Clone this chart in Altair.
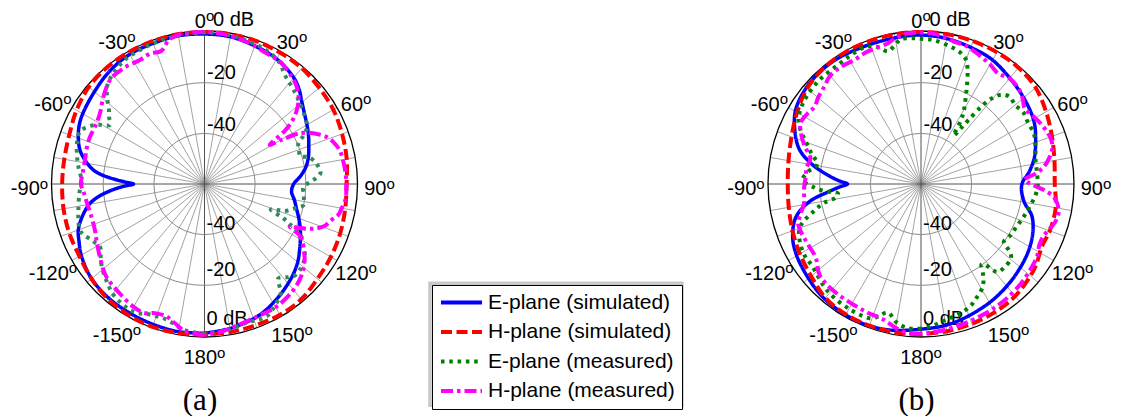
import math
import altair as alt
import pandas as pd

# ------------------------------------------------------------------ data
SERIES = ["E-plane (simulated)", "H-plane (simulated)",
          "E-plane (measured)", "H-plane (measured)"]

# (angle in degrees, clockwise from the top; normalised gain in dB)
A_E_SIM = [(-180, -1.1), (-170, -0.8), (-160, -1.0), (-150, -1.1), (-140, -1.2), (-130, -1.8),
           (-120, -3.8), (-115, -5.4), (-110, -7.0), (-105, -10.0), (-100, -13.8), (-97, -17.5),
           (-95, -21.0), (-93, -25.0), (-91.5, -28.5), (-90, -32.0), (-88.5, -28.5), (-87, -24.5),
           (-85, -19.5), (-83, -16.0), (-80, -13.0), (-75, -9.2), (-70, -7.0), (-65, -5.4),
           (-60, -4.5), (-50, -3.3), (-40, -1.8), (-30, -0.9), (-20, -0.9), (-10, -0.6), (0, -0.8),
           (10, -1.0), (20, -2.0), (30, -3.0), (40, -5.2), (45, -7.2), (50, -9.8), (55, -11.8),
           (60, -13.3), (65, -14.7), (70, -16.2), (75, -17.5), (80, -19.2), (85, -21.8), (90, -24.8),
           (95, -25.5), (100, -24.0), (105, -22.4), (110, -20.4), (115, -18.3), (120, -16.3),
           (125, -14.2), (130, -12.0), (135, -10.2), (140, -8.7), (145, -7.2), (150, -5.8),
           (155, -4.4), (160, -3.4), (170, -2.1), (180, -1.1)]
A_H_SIM = [(-180, -0.6), (-170, -0.3), (-160, 0.0), (-150, -0.2), (-140, -0.7), (-130, -1.8),
           (-120, -3.0), (-110, -3.2), (-100, -3.5), (-90, -3.8), (-80, -3.8), (-70, -3.2),
           (-60, -1.7), (-50, -0.4), (-40, 0.0), (-30, 0.0), (-20, 0.0), (-10, 0.0), (0, 0.0),
           (10, 0.0), (20, 0.0), (30, -0.2), (40, -0.3), (50, -0.9), (60, -1.3), (70, -2.2),
           (80, -3.0), (90, -3.9), (100, -3.6), (110, -3.0), (120, -2.4), (130, -1.8), (140, -0.6),
           (150, -0.4), (160, -0.7), (170, -0.7), (180, -0.6)]
A_E_MEAS = [(-180, -0.8), (-172, -1.8), (-165, -4.3), (-158, -4.3), (-151, -2.3), (-141, -3.3),
            (-135, -5.5), (-129, -7.9), (-125, -10.0), (-121, -11.9), (-117, -10.5), (-111, -7.6),
            (-106, -8.2), (-102, -9.1), (-94, -10.5), (-89, -11.5), (-82, -9.7), (-78, -8.6),
            (-72, -7.1), (-67, -6.7), (-63, -9.5), (-60.5, -12.6), (-58, -16.0), (-55, -14.0),
            (-52, -12.1), (-48, -8.2), (-44, -5.0), (-39, -3.3), (-33, -1.8), (-26, -1.3),
            (-18, -0.8), (-10, -0.5), (0, -0.2), (7, -0.3), (14, -0.8), (23, -1.6), (31, -3.4),
            (37, -6.8), (44, -9.0), (51, -11.0), (57, -12.5), (61, -13.7), (64, -16.5),
            (66.5, -19.6), (70, -20.3), (74, -20.6), (75.5, -17.5), (80, -15.0), (84.5, -14.0),
            (87, -16.0), (89, -18.4), (92, -21.0), (96, -20.5), (99, -20.3), (102, -20.0),
            (105, -23.0), (108.5, -26.5), (111, -32.0), (113.5, -26.0), (115, -23.0), (118, -17.0),
            (122, -14.0), (126, -11.0), (131, -9.5), (135, -9.2), (138, -10.5), (142, -12.7),
            (145, -7.5), (150, -4.5), (154, -2.5), (158, -2.3), (162, -2.8), (171, -1.7),
            (180, -0.8)]
A_H_MEAS = [(-180, -0.4), (-173, -1.2), (-168, -3.8), (-164, -5.6), (-159, -5.4), (-155, -3.8),
            (-150, -4.0), (-142, -5.4), (-133, -6.8), (-125, -9.6), (-118, -11.8), (-112, -13.2),
            (-105, -13.5), (-99, -13.0), (-94, -12.2), (-90, -11.2), (-85, -11.7), (-79, -11.9),
            (-73, -11.4), (-68, -11.1), (-62, -11.2), (-56, -10.2), (-49, -7.2), (-42, -4.5),
            (-35, -4.2), (-27.5, -4.8), (-22.5, -4.2), (-18, -4.8), (-14, -1.5), (-10, -0.2),
            (-5, 0.0), (0, 0.0), (5, -0.2), (11, -0.8), (18, -1.6), (25, -2.9), (32, -3.3),
            (39, -5.4), (43.5, -7.1), (48, -10.0), (51.3, -13.3), (54, -17.0), (56.5, -22.0),
            (59, -30.0), (60.2, -25.0), (62, -17.3), (65, -12.6), (69, -8.3), (72, -6.5), (76, -5.0),
            (82, -4.4), (87, -4.1), (91, -4.0), (96, -4.0), (100, -5.0), (103, -5.8), (106, -8.0),
            (109.5, -10.0), (112.5, -13.8), (115, -19.0), (116.5, -22.5), (118, -18.0),
            (120, -15.5), (122.5, -13.8), (127, -10.5), (133, -7.5), (140, -5.4), (150, -3.8),
            (158, -3.7), (168, -2.5), (174, -1.2), (180, -0.4)]

B_E_SIM = [(-180, -2.7), (-170, -1.3), (-160, -0.4), (-150, -0.4), (-140, -0.8), (-133, -1.6),
           (-121, -3.2), (-113, -5.0), (-105, -8.8), (-99, -15.4), (-95, -23.0), (-92, -28.0),
           (-90, -31.0), (-88, -28.0), (-85, -23.7), (-80, -16.6), (-74, -10.0), (-66, -5.4),
           (-59, -2.4), (-48, -0.7), (-36, -0.4), (-24, -1.2), (-11, -1.4), (0, -1.2), (10, -1.7),
           (21, -2.7), (30, -3.5), (42, -5.8), (52, -7.4), (61, -9.0), (68, -11.2), (77, -14.1),
           (83.5, -17.0), (89, -19.9), (93, -20.3), (100, -18.6), (106, -14.5), (113, -12.0),
           (122, -10.0), (132, -8.5), (141, -7.2), (151, -5.8), (164, -4.1), (172, -3.2),
           (180, -2.7)]
B_H_SIM = [(-180, -0.7), (-170, -0.6), (-160, -0.5), (-150, -0.6), (-140, -1.3), (-130, -3.4),
           (-120, -4.8), (-110, -6.0), (-100, -7.0), (-90, -7.4), (-80, -6.9), (-70, -5.6),
           (-60, -3.5), (-50, -1.3), (-40, -0.3), (-30, 0.0), (-20, 0.0), (-10, 0.0), (0, 0.0),
           (10, 0.0), (20, 0.0), (30, 0.0), (40, -0.1), (50, -0.9), (60, -3.0), (70, -5.0),
           (80, -6.5), (90, -7.2), (100, -6.0), (110, -5.9), (117, -6.3), (125, -4.5), (130, -3.6),
           (140, -2.2), (150, -1.6), (160, -1.3), (170, -1.0), (180, -0.7)]
B_E_MEAS = [(-180, -3.0), (-175, -2.8), (-170, -4.5), (-165.5, -7.6), (-162, -5.0),
            (-159.7, -3.4), (-151, -3.1), (-139, -3.9), (-127, -6.2), (-120, -6.2), (-110, -9.0),
            (-104, -16.7), (-101, -21.0), (-99, -26.0), (-96.5, -27.0), (-94.5, -22.5),
            (-92, -18.0), (-88, -13.3), (-84, -15.0), (-79, -18.4), (-75, -15.5), (-70, -11.7),
            (-66, -8.0), (-62, -5.2), (-57, -3.8), (-52, -3.1), (-44, -2.6), (-35, -2.7),
            (-28, -2.0), (-22, -1.6), (-18, -3.0), (-14, -6.0), (-11, -4.5), (-8, -2.3),
            (-3, -2.4), (0, -2.7), (5, -3.0), (12, -4.5), (17, -6.0), (20, -7.9), (22, -11.0),
            (24.5, -16.0), (27, -21.0), (30, -26.0), (32, -30.0), (34, -37.0), (35.5, -33.0),
            (36.5, -28.7), (38, -21.0), (39.5, -16.3), (42, -12.5), (45.5, -10.9), (50, -11.5),
            (55, -10.7), (60, -11.3), (66, -11.2), (72, -12.5), (78, -13.8), (85, -14.0),
            (91, -13.9), (96, -14.7), (102, -16.3), (108, -17.5), (114, -18.7), (120, -19.3),
            (125, -20.1), (127.5, -15.5), (130, -13.8), (135, -13.5), (139, -14.0),
            (141.5, -19.0), (143, -20.3), (146, -16.0), (149, -12.7), (154, -10.0), (158, -8.0),
            (164, -6.5), (170, -5.4), (175, -4.0), (180, -3.0)]
B_H_MEAS = [(-180, -1.0), (-176, -0.8), (-171, -2.0), (-164, -4.6), (-158, -5.0), (-151, -5.4),
            (-141, -5.5), (-132, -6.2), (-125, -9.3), (-118, -9.4), (-112, -9.0), (-108, -9.0),
            (-104, -11.0), (-99, -13.3), (-94, -13.7), (-90, -14.0), (-86, -14.5), (-82, -14.3),
            (-77, -15.2), (-72, -11.7), (-67, -8.5), (-63, -6.7), (-58, -7.3), (-54, -8.1),
            (-50, -7.0), (-45, -5.9), (-40, -4.2), (-34, -4.0), (-28, -4.4), (-23, -3.7),
            (-18, -3.5), (-13, -2.9), (-10, -1.5), (-5, -0.3), (0, -0.2), (5, -0.5), (10, -1.5),
            (13, -2.3), (18, -2.6), (24, -4.1), (30, -5.5), (35, -6.8), (40, -5.6), (46, -6.2),
            (50, -7.6), (54, -9.4), (58, -8.5), (64, -6.9), (70, -5.8), (74, -6.0), (78, -8.0),
            (82, -11.0), (85, -15.0), (87.5, -19.0), (89, -18.0), (91, -15.0), (93, -11.0),
            (96, -7.0), (101, -4.6), (106, -5.0), (110, -6.5), (113, -7.5), (117, -7.5),
            (122, -6.0), (128, -5.2), (135, -4.3), (143, -3.6), (149, -3.2), (156, -2.8),
            (163, -2.3), (170, -1.7), (176, -1.2), (180, -1.0)]

ANGLE_TICKS = [0, 30, 60, 90, 120, 150, 180, -150, -120, -90, -60, -30]
RING_DB = [-40, -20, 0]
RING_TEXT = ["-40", "-20", "0 dB"]
SPOKE_ANGLES = list(range(0, 360, 10))
PANELS = ["a", "b"]
PANEL_TEXT = ["(a)", "(b)"]

# ------------------------------------------------------------------ layout / style
W, H = 1106, 400
CX = {"a": 204.5, "b": 921.0}
CY = 184.0
R0 = 152.0        # radius of the 0 dB circle
R_OUT = 153.0     # black frame circle
DB_MIN = -60.0
GAP_TOP = [9.3, 11.2, 13.0]
GAP_BOT = [11.4, 17.0, 18.0]

COLORS = ["#0000ff", "#ff0000", "#008000", "#ff00ff"]
GREEN_A = "#2e8b57"
DASHES = [[1, 0], [11, 4.5], [3.5, 4.8], [12, 4, 3.5, 4]]
WIDTHS = [3.5, 4, 4, 4]
SANS = "Liberation Sans"
SERIF = "Liberation Serif"

XS = alt.Scale(domain=[8, 8 + W], nice=False, zero=False)
YS = alt.Scale(domain=[8, 8 + H], nice=False, zero=False, reverse=True)


def rad(db):
    return (db - DB_MIN) / -DB_MIN * R0


def text_w(s, fs):
    return sum(0.333 if c == "-" else 0.556 for c in s) * fs


CX_EXPR = f"datum.panel == 'a' ? {CX['a']} : {CX['b']}"

# ------------------------------------------------------------------ grid
spk = pd.DataFrame([{"panel": p, "ang": a, "major": a % 90 == 0}
                    for p in PANELS for a in SPOKE_ANGLES])
spoke_base = alt.Chart(spk).transform_calculate(
    cx=CX_EXPR, cy=str(CY)
).transform_calculate(
    px2=f"datum.cx + {R_OUT} * sin(datum.ang * PI / 180)",
    py2=f"{CY} - {R_OUT} * cos(datum.ang * PI / 180)",
)
spoke_enc = dict(x=alt.X("cx:Q", scale=XS, axis=None), y=alt.Y("cy:Q", scale=YS, axis=None),
                 x2="px2:Q", y2="py2:Q")
spokes_minor = spoke_base.transform_filter("!datum.major").mark_rule(
    color="#8c8c8c", strokeWidth=0.8).encode(**spoke_enc)
spokes_major = spoke_base.transform_filter("datum.major").mark_rule(
    color="#505050", strokeWidth=1).encode(**spoke_enc)

rings = pd.DataFrame([{"panel": p, "db": d} for p in PANELS for d in RING_DB])
ring_base = alt.Chart(rings).transform_calculate(
    cx=CX_EXPR, cy=str(CY),
    r=f"datum.db == 0 ? {R_OUT} : (datum.db - ({DB_MIN})) / {-DB_MIN} * {R0}",
).transform_calculate(sz="pow(2 * datum.r, 2)")
ring_enc = dict(x=alt.X("cx:Q", scale=XS, axis=None), y=alt.Y("cy:Q", scale=YS, axis=None),
                size=alt.Size("sz:Q", scale=None, legend=None))
rings_inner = ring_base.transform_filter("datum.db < 0").mark_point(
    shape="circle", filled=False, opacity=1, strokeWidth=1, color="#8c8c8c").encode(**ring_enc)
ring_outer = ring_base.transform_filter("datum.db == 0").mark_point(
    shape="circle", filled=False, opacity=1, strokeWidth=1.3, color="#000000").encode(**ring_enc)

# ------------------------------------------------------------------ labels
ang_rows = []
for p in PANELS:
    for a in ANGLE_TICKS:
        t = math.radians(a)
        X = CX[p] + 175 * math.sin(t)
        Y = CY - 169 * math.cos(t) + 4 + (1.5 if a == 0 else 0)
        s = X + (text_w(str(a), 20) - 0.556 * 15) / 2
        ang_rows.append({"txt": str(a), "x": s, "yb": Y + 7.2, "yo": Y + 0.7})
ang_df = pd.DataFrame(ang_rows)
ang_nums = alt.Chart(ang_df).mark_text(
    align="right", baseline="alphabetic", font=SANS, fontSize=20, color="black"
).encode(x=alt.X("x:Q", scale=XS, axis=None), y=alt.Y("yb:Q", scale=YS, axis=None), text="txt:N")
ang_sup = alt.Chart(ang_df).mark_text(
    align="left", baseline="alphabetic", font=SANS, fontSize=15, color="black", text="o"
).encode(x=alt.X("x:Q", scale=XS, axis=None), y=alt.Y("yo:Q", scale=YS, axis=None))

rl_rows = []
for p in PANELS:
    for i, d in enumerate(RING_DB):
        R = rad(d)
        rl_rows.append({"txt": RING_TEXT[i], "x": CX[p] + (8.5 if d == 0 else 2.5),
                        "yb": CY - R - GAP_TOP[i] + 7.2})
        rl_rows.append({"txt": RING_TEXT[i], "x": CX[p] + 2.0,
                        "yb": CY + R - GAP_BOT[i] + 7.2})
rl_df = pd.DataFrame(rl_rows)
ring_labels = alt.Chart(rl_df).mark_text(
    align="left", baseline="alphabetic", font=SANS, fontSize=20, color="black"
).encode(x=alt.X("x:Q", scale=XS, axis=None), y=alt.Y("yb:Q", scale=YS, axis=None), text="txt:N")

pl_df = pd.DataFrame({"txt": PANEL_TEXT, "x": [CX[p] - 4.5 for p in PANELS], "yb": [409.5, 409.5]})
panel_labels = alt.Chart(pl_df).mark_text(
    align="center", baseline="alphabetic", font=SERIF, fontSize=31, color="black"
).encode(x=alt.X("x:Q", scale=XS, axis=None), y=alt.Y("yb:Q", scale=YS, axis=None), text="txt:N")

# ------------------------------------------------------------------ curves
curves = {("a", 0): A_E_SIM, ("a", 1): A_H_SIM, ("a", 2): A_E_MEAS, ("a", 3): A_H_MEAS,
          ("b", 0): B_E_SIM, ("b", 1): B_H_SIM, ("b", 2): B_E_MEAS, ("b", 3): B_H_MEAS}
rows = []
for (p, k), pts in curves.items():
    for i, (ang, db) in enumerate(pts):
        rows.append({"panel": p, "series": SERIES[k], "k": k, "idx": i, "ang": ang, "db": db})
df = pd.DataFrame(rows)

base = alt.Chart(df).transform_calculate(
    r=f"(datum.db - ({DB_MIN})) / {-DB_MIN} * {R0}",
    cx=CX_EXPR,
).transform_calculate(
    px="datum.cx + datum.r * sin(datum.ang * PI / 180)",
    py=f"{CY} - datum.r * cos(datum.ang * PI / 180)",
)

LEG = alt.Legend(title=None, orient="none", legendX=424, legendY=277,
                 labelFont=SANS, labelFontSize=21, labelColor="black",
                 symbolType="stroke", symbolSize=1681, symbolStrokeWidth=4,
                 clipHeight=21, rowPadding=7.5, labelOffset=4, padding=7,
                 strokeColor="black", fillColor="white", labelLimit=400)
color_enc = alt.Color("series:N", scale=alt.Scale(domain=SERIES, range=COLORS), legend=LEG)
dash_enc = alt.StrokeDash("series:N", scale=alt.Scale(domain=SERIES, range=DASHES), legend=LEG)

line_layers = []
for p in PANELS:
    for k in range(4):
        enc = dict(x=alt.X("px:Q", scale=XS, axis=None), y=alt.Y("py:Q", scale=YS, axis=None),
                   order=alt.Order("idx:Q"), strokeDash=dash_enc)
        enc["color"] = alt.value(GREEN_A) if (p == "a" and k == 2) else color_enc
        line_layers.append(
            base.transform_filter(f"datum.panel == '{p}' && datum.k == {k}")
            .mark_line(strokeWidth=WIDTHS[k], interpolate="catmull-rom", strokeCap="butt")
            .encode(**enc)
        )

frame = alt.Chart(pd.DataFrame({"v": [0]})).mark_rect(
    fillOpacity=0, stroke="#c8c8c8", strokeWidth=3.5
).encode(x=alt.value(422), x2=alt.value(674), y=alt.value(275.3), y2=alt.value(397.3))

chart = alt.layer(
    spokes_minor, spokes_major, rings_inner, ring_outer, ring_labels,
    *line_layers, ang_nums, ang_sup, panel_labels, frame
).properties(
    width=W, height=H,
    autosize=alt.AutoSizeParams(type="none"),
    padding={"left": 0, "top": 0, "right": 0, "bottom": 8},
).configure_view(strokeWidth=0)

chart.save("out.html", embed_options={"renderer": "svg", "actions": False})
